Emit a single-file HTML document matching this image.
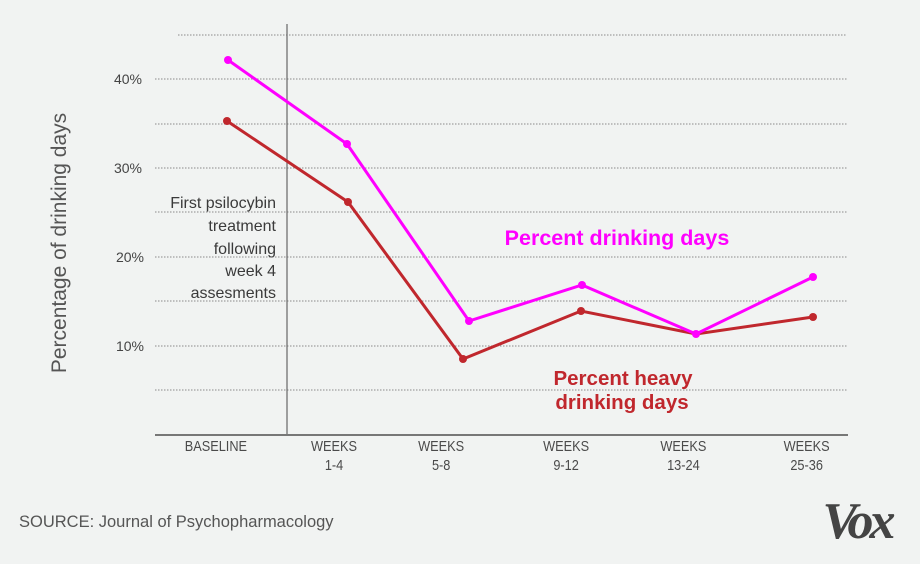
<!DOCTYPE html>
<html><head><meta charset="utf-8"><style>
body{margin:0;background:#f1f3f2;}
svg{display:block;font-family:"Liberation Sans",sans-serif;}
</style></head><body>
<svg width="920" height="564" viewBox="0 0 920 564">
<rect width="920" height="564" fill="#f1f3f2"/>
<g stroke="#8a8a8a" stroke-width="1" stroke-dasharray="1.5,1.5">
<line x1="178" y1="35" x2="847" y2="35"/>
<line x1="155" y1="79" x2="847" y2="79"/>
<line x1="155" y1="124" x2="847" y2="124"/>
<line x1="155" y1="168" x2="847" y2="168"/>
<line x1="155" y1="212" x2="847" y2="212"/>
<line x1="155" y1="257" x2="847" y2="257"/>
<line x1="155" y1="301" x2="847" y2="301"/>
<line x1="155" y1="346" x2="847" y2="346"/>
<line x1="155" y1="390" x2="847" y2="390"/>
</g>
<line x1="287" y1="24" x2="287" y2="435" stroke="#666" stroke-width="1.2"/>
<line x1="155" y1="435" x2="848" y2="435" stroke="#777" stroke-width="2"/>
<g font-size="14" fill="#444" text-anchor="end">
<text x="142" y="84">40%</text><text x="142" y="173">30%</text>
<text x="144" y="262">20%</text><text x="144" y="351">10%</text>
</g>
<text transform="translate(66,243) rotate(-90)" font-size="21" fill="#555" text-anchor="middle">Percentage of drinking days</text>
<g font-size="16" fill="#3a3a3a" text-anchor="end">
<text x="276" y="208">First psilocybin</text>
<text x="276" y="231">treatment</text>
<text x="276" y="254">following</text>
<text x="276" y="276">week 4</text>
<text x="276" y="298">assesments</text>
</g>
<polyline fill="none" stroke="#c0272d" stroke-width="3" points="227,121 348,202 463,359 581,311 696,334 813,317"/>
<g fill="#c0272d"><circle cx="227" cy="121" r="4"/><circle cx="348" cy="202" r="4"/><circle cx="463" cy="359" r="4"/><circle cx="581" cy="311" r="4"/><circle cx="813" cy="317" r="4"/></g>
<polyline fill="none" stroke="#ff00ff" stroke-width="3" points="228,60 347,144 469,321 582,285 696,334 813,277"/>
<g fill="#ff00ff"><circle cx="228" cy="60" r="4"/><circle cx="347" cy="144" r="4"/><circle cx="469" cy="321" r="4"/><circle cx="582" cy="285" r="4"/><circle cx="696" cy="334" r="4"/><circle cx="813" cy="277" r="4"/></g>
<text x="617" y="245" font-size="21.5" font-weight="bold" fill="#ff00ff" text-anchor="middle">Percent drinking days</text>
<text x="623" y="385" font-size="20.5" font-weight="bold" fill="#c0272d" text-anchor="middle">Percent heavy</text>
<text x="622" y="409" font-size="20.5" font-weight="bold" fill="#c0272d" text-anchor="middle">drinking days</text>
<g font-size="15" fill="#4a4a4a" text-anchor="middle" transform="scale(0.85,1)">
<text x="254" y="451">BASELINE</text>
<text x="393" y="451">WEEKS</text><text x="393" y="470">1-4</text>
<text x="519" y="451">WEEKS</text><text x="519" y="470">5-8</text>
<text x="666" y="451">WEEKS</text><text x="666" y="470">9-12</text>
<text x="804" y="451">WEEKS</text><text x="804" y="470">13-24</text>
<text x="949" y="451">WEEKS</text><text x="949" y="470">25-36</text>
</g>
<text x="19" y="527" font-size="16.5" fill="#555">SOURCE: Journal of Psychopharmacology</text>
<text x="857" y="538" font-size="52" font-weight="bold" font-style="italic" fill="#444" text-anchor="middle" font-family="Liberation Serif,serif" letter-spacing="-4">Vox</text>
</svg>
</body></html>
